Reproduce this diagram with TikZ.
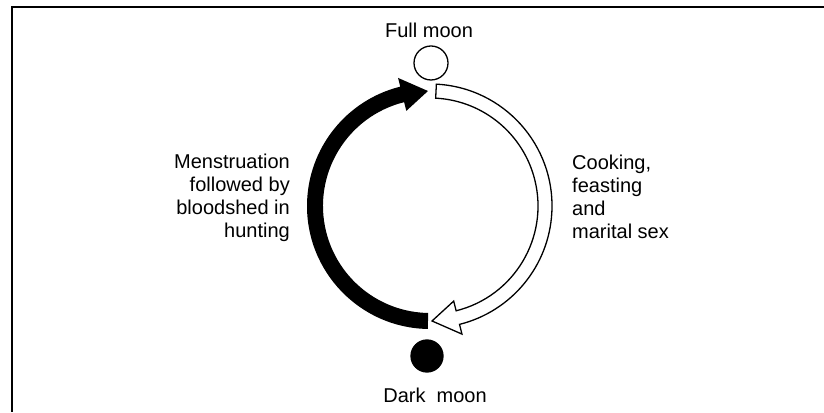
\documentclass[tikz,border=0pt]{standalone}
\usepackage{fontspec}
\setmainfont{Liberation Sans}
\usetikzlibrary{positioning}

\tikzset{
  moontext/.style={inner sep=0pt, font=\fontsize{20}{23}\selectfont},
  moon/.style={circle, draw, line width=1.3pt, minimum size=#1, inner sep=0pt},
}

\begin{document}
\begin{tikzpicture}[x=1pt, y=1pt]
  \useasboundingbox (0,0) rectangle (824,412);
  \draw[line width=2.5pt] (824,405) -- (12,405) -- (12,0);

  \node[moon=34pt] (fullmoon) at (431,349) {};
  \node[moon=32pt, fill=black] (darkmoon) at (427,56) {};
  \node[moontext] (fulltext) at (429,382) {Full moon};
  \node[moontext] (darktext) at (435,17) {Dark~ moon};
  \node[moontext, align=right, anchor=east] (bloodtext) at (290,214)
    {Menstruation\\followed by\\bloodshed in\\hunting};
  \node[moontext, align=left, anchor=west] (cooktext) at (572,215)
    {Cooking,\\feasting\\and\\marital sex};

  \begin{scope}[shift={(430,206)}]
    \fill (269:123) arc[start angle=269, end angle=104, radius=123]
      -- (104:132) -- (91:115) -- (104:98) -- (104:107)
      arc[start angle=104, end angle=269, radius=107] -- cycle;
    \filldraw[fill=white, line width=1.3pt, line join=miter]
      (87:122) arc[start angle=87, end angle=-76, radius=122]
      -- (-76:132) -- (-89:115) -- (-76:98) -- (-76:108)
      arc[start angle=-76, end angle=87, radius=108] -- cycle;
  \end{scope}
\end{tikzpicture}
\end{document}
